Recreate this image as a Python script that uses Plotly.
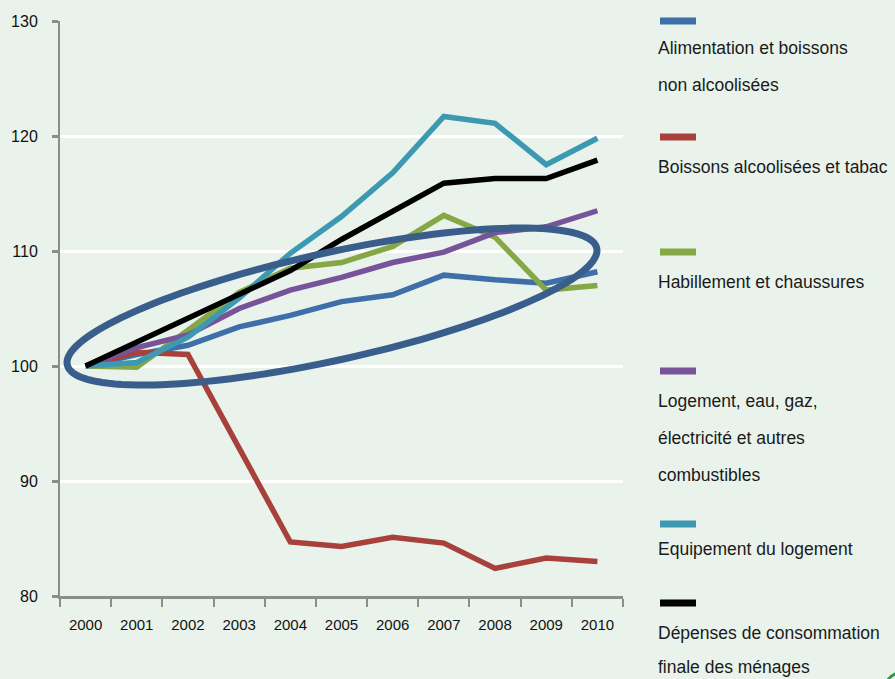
import math
import plotly.graph_objects as go

years = ["2000", "2001", "2002", "2003", "2004", "2005", "2006", "2007", "2008", "2009", "2010"]

alimentation = [100, 101.0, 101.8, 103.4, 104.4, 105.6, 106.2, 107.9, 107.5, 107.2, 108.2]
alcool_tabac = [100, 101.2, 101.0, 92.9, 84.7, 84.3, 85.1, 84.6, 82.4, 83.3, 83.0]
habillement = [100, 99.9, 103.1, 106.4, 108.5, 109.0, 110.4, 113.1, 111.2, 106.6, 107.0]
logement = [100, 101.6, 102.7, 105.0, 106.6, 107.7, 109.0, 109.9, 111.6, 112.1, 113.5]
equipement = [100, 100.3, 102.5, 105.9, 109.8, 113.0, 116.8, 121.7, 121.1, 117.5, 119.8]
depenses = [100, 102.1, 104.2, 106.2, 108.3, 111.0, 113.4, 115.9, 116.3, 116.3, 117.9]

y_ticks = [80, 90, 100, 110, 120, 130]

series = [
    (["Alimentation et boissons", "non alcoolisées"], alimentation, "#3f6fa9"),
    (["Boissons alcoolisées et tabac"], alcool_tabac, "#a8403b"),
    (["Habillement et chaussures"], habillement, "#86a746"),
    (["Logement, eau, gaz,", "électricité et autres", "combustibles"], logement, "#77549a"),
    (["Equipement du logement"], equipement, "#3d98b2"),
    (["Dépenses de consommation", "finale des ménages"], depenses, "#000000"),
]

W, H = 895, 679
L, R, T, B = 60, 623, 21, 596
FONT = "Liberation Sans, Arial, sans-serif"
BG = "#e9f3eb"
LEG_SIZE = 17.5


def px(x):
    return (x - L) / (R - L)


def py(y):
    return (B - y) / (B - T)


fig = go.Figure()
for names, vals, col in series:
    fig.add_trace(go.Scatter(
        x=years, y=vals, mode="lines", name=" ".join(names),
        line=dict(color=col, width=5.5), showlegend=False,
    ))

shapes = []
annotations = []

# custom legend: swatch above text
legend_layout = [
    (21, [48, 85]),
    (137, [167]),
    (252, [282]),
    (371, [401, 438, 475]),
    (524, [549]),
    (603, [633, None]),
]
for (names, vals, col), (sy, tys) in zip(series, legend_layout):
    shapes.append(dict(type="line", xref="paper", yref="paper",
                       x0=px(660), x1=px(696), y0=py(sy), y1=py(sy),
                       line=dict(color=col, width=7), layer="above"))
    for name, ty in zip(names, tys):
        if ty is None:
            annotations.append(dict(text=name, xref="paper", yref="paper",
                                    x=px(656), y=py(679), xanchor="left", yanchor="bottom",
                                    showarrow=False,
                                    font=dict(family=FONT, size=LEG_SIZE, color="#1a1a1a")))
        else:
            annotations.append(dict(text=name, xref="paper", yref="paper",
                                    x=px(656), y=py(ty), xanchor="left", yanchor="middle",
                                    showarrow=False,
                                    font=dict(family=FONT, size=LEG_SIZE, color="#1a1a1a")))

# highlight ellipse (drawn from conjugate half-diameters)
cx, cy = 332.0, 306.5
pts = []
for i in range(145):
    t = 2 * math.pi * i / 144
    x = cx + 265.0 * math.cos(t)
    y = cy - 56.0 * math.cos(t) + 55.0 * math.sin(t)
    pts.append(f"{px(x):.5f},{py(y):.5f}")
path = "M " + " L ".join(pts) + " Z"
shapes.append(dict(type="path", xref="paper", yref="paper", path=path,
                   line=dict(color="#3a5e8c", width=7), layer="above"))

# small decorative green swoosh in the bottom-right corner
shapes.append(dict(type="path", xref="paper", yref="paper",
                   path=f"M {px(887):.5f},{py(681):.5f} Q {px(890):.5f},{py(676):.5f} {px(897):.5f},{py(673):.5f}",
                   line=dict(color="#2f9a4c", width=3), layer="above"))

fig.update_layout(
    width=W, height=H,
    margin=dict(l=L, r=W - R, t=T, b=H - B),
    paper_bgcolor=BG, plot_bgcolor=BG,
    shapes=shapes, annotations=annotations,
    font=dict(family=FONT, size=16, color="#1a1a1a"),
    xaxis=dict(type="category", range=[-0.5, 10.5], tickson="boundaries",
               showgrid=False, zeroline=False,
               showline=True, linecolor="#8c8c8c", linewidth=3,
               ticks="outside", ticklen=8, tickwidth=2, tickcolor="#8c8c8c",
               ticklabelstandoff=13,
               tickfont=dict(family=FONT, size=15, color="#111111")),
    yaxis=dict(range=[80, 130], tickvals=y_ticks,
               showgrid=True, gridcolor="#ffffff", gridwidth=3, zeroline=False,
               showline=True, linecolor="#8c8c8c", linewidth=2,
               ticks="outside", ticklen=6, tickwidth=3, tickcolor="#8c8c8c",
               ticklabelstandoff=11,
               tickfont=dict(family=FONT, size=16, color="#111111")),
)

fig.write_html("out.html", config={"displayModeBar": False},
               post_script="document.body.style.margin='0';document.body.style.overflow='hidden';")
